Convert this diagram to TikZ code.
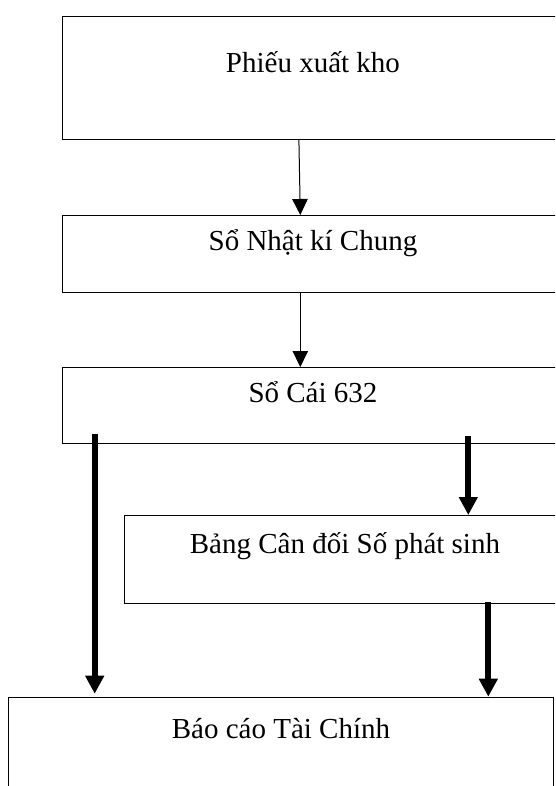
\documentclass[tikz,border=0pt]{standalone}
\usepackage{fontspec}
\setmainfont{Liberation Serif}
\usetikzlibrary{arrows.meta,calc}
\tikzset{
  boxnode/.style={draw=black, line width=0.9pt, rectangle, inner sep=0pt, anchor=north west},
  labeltext/.style={anchor=base, inner sep=0pt, font=\fontsize{29}{34}\selectfont},
  thinarrow/.style={line width=1pt, -{Triangle[width=15.5pt,length=16pt]}},
  thickarrow/.style={line width=5.8pt, -{Triangle[width=18pt,length=18pt]}}
}
\begin{document}
\begin{tikzpicture}[x=1pt,y=-1pt]
\useasboundingbox (0,0) rectangle (555,786);
\clip (0,0) rectangle (555,786);
% boxes
\node[boxnode, minimum width=500.4pt, minimum height=123.3pt] (b1) at (62.3,16) {};
\node[boxnode, minimum width=500.4pt, minimum height=76.7pt] (b2) at (62.3,215) {};
\node[boxnode, minimum width=500.4pt, minimum height=76.3pt] (b3) at (62.3,367) {};
\node[boxnode, minimum width=440.4pt, minimum height=87.7pt] (b4) at (124.3,515) {};
\node[boxnode, minimum width=544.4pt, minimum height=120pt] (b5) at (8.3,696.7) {};
% texts
\node[labeltext] (t1) at ($(b1.north)+(0,56.5)$) {Phiếu xuất kho};
\node[labeltext] (t2) at ($(b2.north)+(0,36)$) {Sổ Nhật kí Chung};
\node[labeltext] (t3) at ($(b3.north)+(0,35.7)$) {Sổ Cái 632};
\node[labeltext] (t4) at ($(b4.north)+(0,38)$) {Bảng Cân đối Số phát sinh};
\node[labeltext] (t5) at ($(b5.north)+(0,41.3)$) {Báo cáo Tài Chính};
% arrow x positions
\coordinate (xa) at (298.9,0);
\coordinate (xb) at (300.3,0);
\coordinate (xl) at (94.7,0);
\coordinate (xr) at (468.3,0);
\coordinate (xs) at (488.3,0);
% connectors
\draw[thinarrow] (b1.south -| xa) -- ($(b2.north -| xb)$);
\draw[thinarrow] (b2.south -| xb) -- (b3.north -| xb);
\draw[thickarrow] ($(b3.south -| xl)+(0,-10.6)$) -- ($(b5.north -| xl)+(0,-3)$);
\draw[thickarrow] ($(b3.south -| xr)+(0,-8.3)$) -- (b4.north -| xr);
\draw[thickarrow] ($(b4.south -| xs)+(0,-2)$) -- (b5.north -| xs);
\end{tikzpicture}
\end{document}
